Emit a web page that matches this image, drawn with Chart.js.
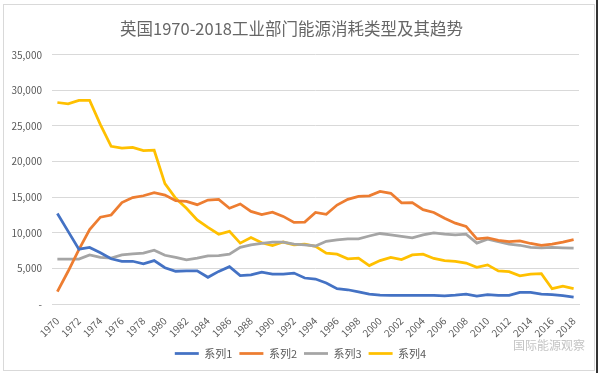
<!DOCTYPE html>
<html lang="zh">
<head>
    <meta charset="UTF-8">
    <title>英国1970-2018工业部门能源消耗类型及其趋势</title>
    <script src="https://cdn.jsdelivr.net/npm/chart.js"></script>
    <style>
        body { margin: 0; padding: 0; background: #fff; }
        .container { width: 600px; height: 373px; position: relative; }
    </style>
</head>
<body>
    <div class="container">
        <canvas id="myChart"></canvas>
    </div>

    <script>
        // 年份 1970-2018
        const years = [];
        for (let y = 1970; y <= 2018; y++) years.push(String(y));

        const seriesNames = ['系列1', '系列2', '系列3', '系列4'];
        const seriesColors = ['#4472C4', '#ED7D31', '#A5A5A5', '#FFC000'];

        const series1 = [12700, 10200, 7700, 7950, 7200, 6350, 6000, 6000, 5650, 6100,
            5100, 4600, 4650, 4650, 3750, 4580, 5250, 3980, 4100, 4480,
            4200, 4200, 4340, 3650, 3500, 2950, 2150, 2000, 1700, 1400,
            1250, 1200, 1200, 1200, 1200, 1200, 1150, 1250, 1400, 1100,
            1300, 1210, 1210, 1620, 1620, 1390, 1300, 1160, 970];

        const series2 = [1750, 4600, 7650, 10450, 12200, 12500, 14250, 14950, 15200, 15650,
            15300, 14500, 14400, 13950, 14600, 14700, 13450, 14050, 13000, 12550,
            12900, 12300, 11450, 11500, 12850, 12600, 13900, 14700, 15100, 15200,
            15800, 15550, 14200, 14250, 13250, 12850, 12050, 11350, 10900, 9150,
            9300, 8950, 8750, 8850, 8500, 8250, 8400, 8700, 9050];

        const series3 = [6300, 6300, 6300, 6900, 6550, 6450, 6900, 7050, 7150, 7550,
            6850, 6550, 6200, 6450, 6750, 6800, 7000, 7950, 8300, 8500,
            8700, 8700, 8400, 8300, 8150, 8800, 9000, 9150, 9150, 9550,
            9900, 9700, 9500, 9300, 9700, 10000, 9800, 9700, 9800, 8550,
            9100, 8750, 8400, 8250, 7950, 7900, 7950, 7900, 7850];

        const series4 = [28300, 28100, 28600, 28600, 25200, 22150, 21900, 22000, 21550, 21600,
            16900, 14850, 13450, 11800, 10750, 9800, 10200, 8550, 9350, 8600,
            8200, 8700, 8300, 8400, 8100, 7150, 7000, 6350, 6450, 5400,
            6100, 6550, 6250, 6900, 7000, 6400, 6100, 6000, 5750, 5150,
            5500, 4650, 4550, 3950, 4200, 4250, 2150, 2500, 2150];

        const allSeries = [series1, series2, series3, series4];
        const cjkFont = '"Noto Sans CJK SC", "Noto Sans", sans-serif';

        // 背景、边框和水印
        const frame = {
            id: 'frame',
            afterLayout: chart => {
                // 图例整体居中于画布
                chart.legend.left += 9;
                chart.legend.right += 9;
            },
            beforeDraw: chart => {
                const ctx = chart.ctx;
                ctx.save();
                ctx.fillStyle = '#fff';
                ctx.fillRect(0, 0, chart.width, chart.height);
                ctx.strokeStyle = '#d9d9d9';
                ctx.lineWidth = 1;
                ctx.strokeRect(3.5, 4.5, 591, 366);
                ctx.strokeStyle = '#333';
                ctx.lineWidth = 2;
                ctx.beginPath();
                ctx.moveTo(597, 0);
                ctx.lineTo(597, chart.height);
                ctx.stroke();
                ctx.restore();
            },
            afterDraw: chart => {
                const ctx = chart.ctx;
                ctx.save();
                ctx.font = '12px ' + cjkFont;
                ctx.fillStyle = '#c4c4c4';
                ctx.textAlign = 'left';
                ctx.textBaseline = 'middle';
                ctx.fillText('国际能源观察', 513, 345);
                ctx.restore();
            }
        };

        const ctx = document.getElementById('myChart').getContext('2d');
        new Chart(ctx, {
            type: 'line',
            data: {
                labels: years,
                datasets: allSeries.map((data, i) => ({
                    label: seriesNames[i],
                    data: data,
                    borderColor: seriesColors[i],
                    backgroundColor: seriesColors[i],
                    borderWidth: 2.75,
                    pointRadius: 0,
                    tension: 0,
                    fill: false
                }))
            },
            options: {
                responsive: true,
                maintainAspectRatio: false,
                animation: false,
                layout: { padding: { left: 4, right: 21, top: 0, bottom: 4 } },
                plugins: {
                    title: {
                        display: true,
                        text: '英国1970-2018工业部门能源消耗类型及其趋势',
                        color: '#666',
                        font: { family: cjkFont, size: 16.5, weight: 'normal' },
                        padding: { top: 19, bottom: 16 }
                    },
                    legend: {
                        position: 'bottom',
                        labels: {
                            usePointStyle: true,
                            pointStyle: 'line',
                            pointStyleWidth: 24,
                            color: '#595959',
                            font: { family: cjkFont, size: 11 },
                            padding: 7
                        }
                    },
                    tooltip: { enabled: false }
                },
                scales: {
                    x: {
                        offset: true,
                        grid: { display: false },
                        border: { color: '#d9d9d9' },
                        ticks: {
                            autoSkip: false,
                            minRotation: 45,
                            maxRotation: 45,
                            color: '#595959',
                            font: { family: cjkFont, size: 10 },
                            callback: function (val, idx) {
                                return idx % 2 === 0 ? this.getLabelForValue(val) : '';
                            }
                        },
                        afterFit: scale => { scale.height = 37; }
                    },
                    y: {
                        min: 0,
                        max: 35000,
                        grid: { color: '#d9d9d9', drawTicks: false },
                        border: { display: false },
                        ticks: {
                            stepSize: 5000,
                            padding: 10,
                            color: '#595959',
                            font: { family: cjkFont, size: 10 },
                            callback: v => v === 0 ? '-' : v.toLocaleString('en-US')
                        },
                        afterFit: scale => { scale.width = 48; }
                    }
                }
            },
            plugins: [frame]
        });
    </script>
</body>
</html>
